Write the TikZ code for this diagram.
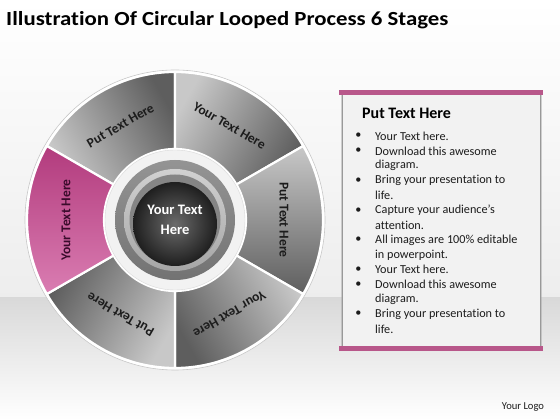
\documentclass[tikz,border=0pt]{standalone}
\usepackage{fontspec}
\setmainfont{Carlito}[Ligatures=NoCommon]
\definecolor{segL}{HTML}{C8C8C8}
\definecolor{segD}{HTML}{5E5E5E}
\definecolor{pinkL}{HTML}{DA7DB2}
\definecolor{pinkD}{HTML}{B23B7D}
\definecolor{barPink}{HTML}{B8578A}
\definecolor{txt}{HTML}{1C1C1C}
\definecolor{pinkTxt}{HTML}{3A0B2B}
\begin{document}
\begin{tikzpicture}[x=1pt,y=1pt,
  seg/.style={draw=white,line width=2.2pt,top color=segL,bottom color=segD},
  seglabel/.style={font=\fontsize{13.5}{15}\selectfont\bfseries,text=txt,inner sep=0pt},
  bodytext/.style={font=\fontsize{12.2}{14}\selectfont,text=txt,anchor=west,inner sep=0pt},
  bul/.style={font=\fontsize{12.2}{14}\selectfont,text=txt,anchor=center,inner sep=0pt}]
% background
\path[top color=white,bottom color=white!93!black] (0,122) rectangle (560,420);
\path[top color=white!85!black,bottom color=white] (0,0) rectangle (560,122);
% title
\node[anchor=west,inner sep=0pt,xscale=1.14,font=\fontsize{20}{24}\selectfont\bfseries] (title) at (6,400) {Illustration Of Circular Looped Process 6 Stages};
% wheel
\begin{scope}[shift={(175,200)}]
  \draw[fill=white,draw=white!78!black,line width=.6pt] (0,0) circle (150);
  \foreach \s/\m/\t in {1/120/Put Text Here,2/60/Your Text Here,3/0/Put Text Here,4/-60/Your Text Here,5/240/Put Text Here}{
    \path[seg,shading angle=\m] ({\m+30}:148) arc[start angle={\m+30},end angle={\m-30},radius=148]
      -- ({\m-30}:71) arc[start angle={\m-30},end angle={\m+30},radius=71] -- cycle;
    \node[seglabel,rotate={\m-90}] (lab\s) at (\m:109) {\t};
  }
  \path[seg,top color=pinkL,bottom color=pinkD,shading angle=180] (210:148) arc[start angle=210,end angle=150,radius=148]
      -- (150:71) arc[start angle=150,end angle=210,radius=71] -- cycle;
  \node[seglabel,text=pinkTxt,rotate=90] (lab6) at (180:109) {Your Text Here};
  % hub
  \draw[fill=white!95!black,draw=white!85!black,line width=.4pt] (0,0) circle (70);
  \path[top color=white!58!black,bottom color=white!45!black] (0,0) circle (60);
  \path[top color=white!82!black,bottom color=white!65!black] (0,0) circle (51);
  \path[fill=white!52!black] (0,0) circle (45.5);
  \path[inner color=white!42!black,outer color=white!12!black] (0,-4) circle (42);
  \node[align=center,text=white,font=\fontsize{14.5}{20}\selectfont\bfseries] (hub) at (0,0) {Your Text\\Here};
\end{scope}
% text panel
\fill[black!35,opacity=.5] (340.5,71) rectangle (541.5,327);
\path[fill=white!95!black,draw=white!60!black,line width=.8pt] (342,71) rectangle (540,327);
\fill[barPink] (339,325) rectangle (543,329.5);
\fill[barPink] (339,69) rectangle (543,73.5);
\node[anchor=west,inner sep=0pt,font=\fontsize{16}{19}\selectfont\bfseries] (head) at (362,307) {Put Text Here};
\foreach \i/\t/\b in {0/Your Text here./1,1/Download this awesome/1,2/diagram./0,3/Bring your presentation to/1,4/life./0,5/Capture your audience’s/1,6/attention./0,7/All images are 100\% editable/1,8/in powerpoint./0,9/Your Text here./1,10/Download this awesome/1,11/diagram./0,12/Bring your presentation to/1,13/life./0}{
  \node[bodytext] (line\i) at (375,{284-14.85*\i}) {\t};
  \ifnum\b=1 \node[bul] (bul\i) at (358.5,{284-14.85*\i}) {\textbullet}; \fi
}
\node[inner sep=0pt,font=\fontsize{10.6}{12}\selectfont,text=txt] (logo) at (523,13) {Your Logo};
\end{tikzpicture}
\end{document}
